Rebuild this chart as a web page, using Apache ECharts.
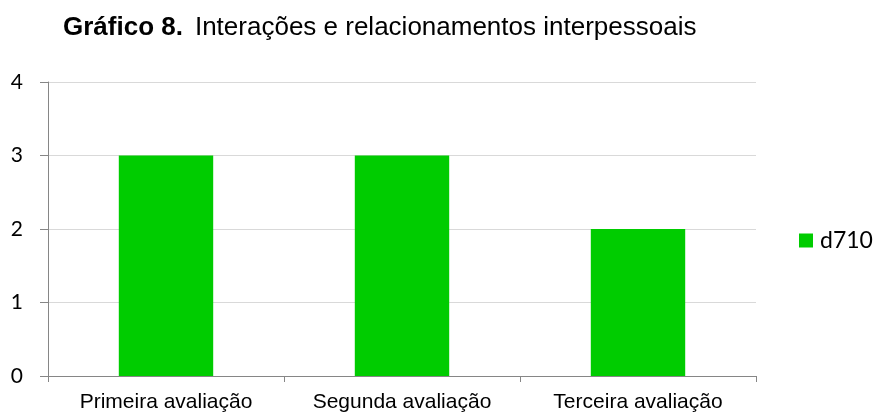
<!DOCTYPE html>
<html>
<head>
<meta charset="utf-8">
<script src="https://cdn.jsdelivr.net/npm/echarts@6/dist/echarts.min.js"></script>
<style>
html,body{margin:0;padding:0;background:#fff;}
#chart{width:877px;height:413px;}
</style>
</head>
<body>
<div id="chart"></div>
<script>
const categories = ['Primeira avaliação', 'Segunda avaliação', 'Terceira avaliação'];
const seriesName = 'd710';
const values = [3, 3, 2];
const yTicks = [0, 1, 2, 3, 4];

const chart = echarts.init(document.getElementById('chart'), null, {renderer: 'canvas'});
chart.setOption({
  animation: false,
  backgroundColor: '#ffffff',
  title: {
    text: '{b|Gráfico 8.}{n|Interações e relacionamentos interpessoais}',
    left: 63,
    top: 15,
    padding: 0,
    textStyle: {
      rich: {
        b: {fontFamily: 'Liberation Sans', fontWeight: 'bold', fontSize: 26, color: '#000'},
        n: {fontFamily: 'Liberation Sans', fontWeight: 'normal', fontSize: 26, color: '#000', padding: [0, 0, 0, 12]}
      }
    }
  },
  legend: {
    data: [seriesName],
    left: 799,
    top: 229,
    padding: 0,
    itemWidth: 14,
    itemHeight: 14,
    itemGap: 4,
    icon: 'rect',
    textStyle: {fontFamily: 'Lato', fontSize: 23, color: '#000', padding: [0,0,0,2]}
  },
  grid: {left: 48, right: 121, top: 82, bottom: 37, containLabel: false},
  xAxis: {
    type: 'category',
    data: categories,
    axisLine: {lineStyle: {color: '#868686', width: 1}},
    axisTick: {show: true, length: 6, lineStyle: {color: '#868686'}},
    axisLabel: {fontFamily: 'Liberation Sans', fontSize: 21, color: '#000', margin: 16}
  },
  yAxis: {
    type: 'value',
    min: yTicks[0],
    max: yTicks[yTicks.length - 1],
    interval: 1,
    axisLine: {show: true, lineStyle: {color: '#868686', width: 1}},
    axisTick: {show: true, length: 8, lineStyle: {color: '#868686'}},
    axisLabel: {fontFamily: 'Lato', fontSize: 21, color: '#000', margin: 25},
    splitLine: {lineStyle: {color: '#d9d9d9', width: 1}}
  },
  series: [{
    name: seriesName,
    type: 'bar',
    data: values,
    barWidth: '40%',
    itemStyle: {color: '#00cc00'}
  }]
});
</script>
</body>
</html>
